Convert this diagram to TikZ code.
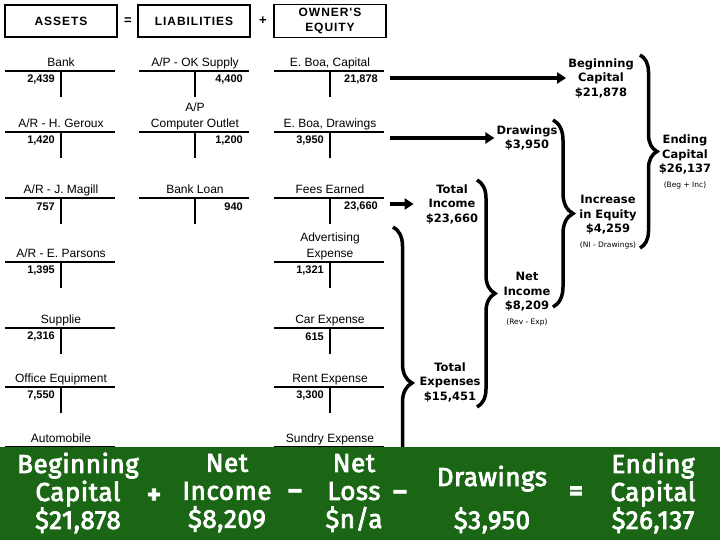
\documentclass[tikz,border=0pt]{standalone}
\usepackage{fontspec}
\setmainfont{Liberation Sans}
\newfontfamily\hdrfont[LetterSpace=8]{Liberation Sans}
\newfontfamily\tagfont{DejaVu Sans}
\newfontfamily\barfont[FakeBold=3,LetterSpace=2]{Fira Sans}
\usepackage{tikz}
\usetikzlibrary{arrows.meta,positioning,decorations.pathreplacing}
\definecolor{bargreen}{RGB}{26,102,20}

% one T account: name, x of the split, y of the top line, title
\newcommand{\tacct}[4]{%
  \coordinate (#1) at (#2,#3);
  \node[acctitle] (#1-t) at ([yshift=4.5pt]#1) {#4};
  \draw[tline] ([xshift=-56pt]#1) -- ([xshift=54pt]#1);
  \draw[tline] (#1) -- ++(0,26);
}
\newcommand{\debit}[2]{\node[amt] (#1-d) at ([shift={(-6,9)}]#1) {#2};}
\newcommand{\credit}[2]{\node[amt] (#1-c) at ([shift={(48,9)}]#1) {#2};}
\newcommand{\smallnote}[1]{{\mdseries\fontsize{7.5}{8}\selectfont #1}}

\begin{document}
\begin{tikzpicture}[x=1pt, y=-1pt,
    hdr/.style={rectangle, draw, line width=1.2pt, minimum width=112pt, minimum height=32pt, align=center, font=\hdrfont\bfseries\fontsize{12}{15}\selectfont},
    op/.style={font=\bfseries\fontsize{13}{14}\selectfont},
    acctitle/.style={anchor=south, inner sep=0pt, text depth=0pt, align=center, font=\fontsize{12}{16}\selectfont},
    tline/.style={line width=1.6pt},
    amt/.style={anchor=east, inner sep=0pt, font=\bfseries\fontsize{11}{12}\selectfont},
    tag/.style={align=center, inner sep=2pt, font=\tagfont\bfseries\fontsize{11.5}{14.5}\selectfont},
    flow/.style={line width=4pt, -{Triangle[length=9pt,width=11pt]}},
    curly/.style={decorate, decoration={brace, amplitude=#1}, line width=3.5pt},
    big/.style={align=center, text=white, font=\barfont\fontsize{26}{28}\selectfont},
    bigop/.style={text=white, font=\barfont\bfseries\fontsize{26}{26}\selectfont}
]
\useasboundingbox (0,0) rectangle (720,540);

% equation heading
\node[hdr] (assets) at (61,21) {ASSETS};
\node[op] (eq) at (128,21) {=};
\node[hdr] (liab) at (194,21) {LIABILITIES};
\node[op] (plus) at (263,21) {+};
\node[hdr] (oe) at (330,21) {OWNER'S\\EQUITY};

% assets
\tacct{bank}{61}{71}{Bank}
\debit{bank}{2,439}
\tacct{arger}{61}{132}{A/R - H. Geroux}
\debit{arger}{1,420}
\tacct{armag}{61}{198}{A/R - J. Magill}
\debit{armag}{757}
\tacct{arpar}{61}{262}{A/R - E. Parsons}
\debit{arpar}{1,395}
\tacct{supp}{61}{328}{Supplie}
\debit{supp}{2,316}
\tacct{offeq}{61}{387}{Office Equipment}
\debit{offeq}{7,550}
\tacct{auto}{61}{447}{Automobile}

% liabilities
\tacct{apok}{195}{71}{A/P - OK Supply}
\credit{apok}{4,400}
\tacct{apco}{195}{132}{A/P\\Computer Outlet}
\credit{apco}{1,200}
\tacct{loan}{195}{198}{Bank Loan}
\credit{loan}{940}

% owner's equity
\tacct{cap}{330}{71}{E. Boa, Capital}
\credit{cap}{21,878}
\tacct{drw}{330}{132}{E. Boa, Drawings}
\debit{drw}{3,950}
\tacct{fees}{330}{198}{Fees Earned}
\credit{fees}{23,660}
\tacct{adv}{330}{262}{Advertising\\Expense}
\debit{adv}{1,321}
\tacct{car}{330}{328}{Car Expense}
\debit{car}{615}
\tacct{rent}{330}{387}{Rent Expense}
\debit{rent}{3,300}
\tacct{sundry}{330}{447}{Sundry Expense}

% totals
\node[tag] (begcap) at (601,78) {Beginning\\Capital\\\$21,878};
\node[tag] (endcap) at (685,162) {Ending\\Capital\\\$26,137\\\smallnote{(Beg + Inc)}};
\node[tag] (drwtag) at (527,138) {Drawings\\\$3,950};
\node[tag] (incr) at (608,222) {Increase\\in Equity\\\$4,259\\\smallnote{(NI - Drawings)}};
\node[tag] (tinc) at (452,204) {Total\\Income\\\$23,660};
\node[tag] (netinc) at (527,299) {Net\\Income\\\$8,209\\\smallnote{(Rev - Exp)}};
\node[tag] (texp) at (450,382) {Total\\Expenses\\\$15,451};

\coordinate (capR) at (390,78);
\coordinate (drwR) at (390,138);
\coordinate (feesR) at (390,204);
\draw[flow] (capR) -- (begcap);
\draw[flow] (drwR) -- (drwtag);
\draw[flow, shorten >=10pt] (feesR) -- (tinc);

\draw[curly=17pt] (640,55) -- (640,248);
\draw[curly=20pt] (553,120) -- (553,307);
\draw[curly=18pt] (477,180) -- (477,407);
\draw[curly=19pt] (393,227) -- (393,539);

% summary bar
\fill[bargreen] (0,447) rectangle (720,540);
\node[big] (begB) at (78,493) {Beginning\\Capital\\\$21,878};
\node[bigop] (plusB) at (154,496) {+};
\node[big] (niB) at (227,493) {Net\\Income\\\$8,209};
\node[bigop] (minusA) at (295,494) {\textendash};
\node[big] (nlB) at (354,493) {Net\\Loss\\\$n/a};
\node[bigop] (minusB) at (400,495) {\textendash};
\node[big] (drB) at (492,499.5) {Drawings\\[15pt]\$3,950};
\node[bigop] (eqB) at (576,493) {=};
\node[big] (endB) at (653,493) {Ending\\Capital\\\$26,137};
\end{tikzpicture}
\end{document}
